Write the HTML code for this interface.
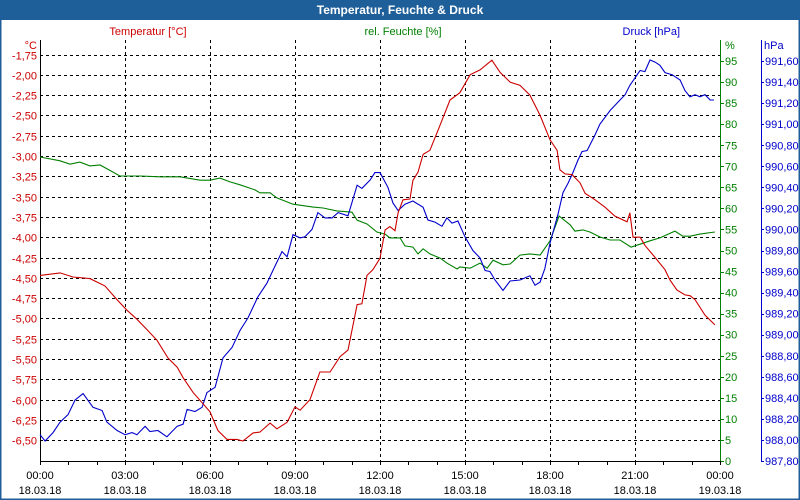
<!DOCTYPE html>
<html><head><meta charset="utf-8"><style>
body{margin:0;background:#fff}
svg{display:block;font-family:"Liberation Sans",sans-serif}
</style></head><body>
<svg id="c" width="800" height="500" viewBox="0 0 800 500">
<rect x="0" y="0" width="800" height="500" fill="#fff"/>
<rect x="0" y="0" width="800" height="20" fill="#1f5f99"/>
<text x="400" y="14" fill="#fff" font-size="12" font-weight="bold" text-anchor="middle">Temperatur, Feuchte &amp; Druck</text>
<rect x="0.5" y="0.5" width="799" height="499" fill="none" stroke="#1f5f99" stroke-width="2"/>
<text x="148" y="35" fill="#cc0000" font-size="11" text-anchor="middle">Temperatur [°C]</text>
<text x="403" y="35" fill="#008000" font-size="11" text-anchor="middle">rel. Feuchte [%]</text>
<text x="680" y="35" fill="#0000cc" font-size="11" text-anchor="end">Druck [hPa]</text>
<text x="37" y="49" fill="#cc0000" font-size="11" text-anchor="end">°C</text>
<text x="725" y="49" fill="#008000" font-size="11">%</text>
<text x="764" y="49" fill="#0000cc" font-size="11">hPa</text>
<g id="grid"></g><g id="axes"></g><g id="series"></g>
</svg>
<script>
const tempHours=[0,0.71,1.16,1.76,2.29,2.72,3.07,3.42,3.78,4.13,4.52,4.84,5.05,5.40,6.00,6.28,6.60,6.95,7.16,7.52,7.76,8.12,8.36,8.72,9.00,9.18,9.53,9.88,10.24,10.59,10.87,11.19,11.36,11.54,11.75,12.00,12.18,12.35,12.53,12.64,12.81,13.06,13.16,13.34,13.52,13.76,14.12,14.47,14.82,15.18,15.53,15.95,16.24,16.59,16.94,17.29,17.65,18.00,18.25,18.35,18.53,18.78,19.06,19.24,19.59,19.94,20.29,20.72,20.82,20.93,21.18,21.35,21.71,22.06,22.24,22.48,22.76,22.94,23.12,23.47,23.82];
const tempValues=[-4.47,-4.44,-4.49,-4.51,-4.60,-4.77,-4.90,-5.01,-5.14,-5.27,-5.49,-5.60,-5.73,-5.91,-6.15,-6.38,-6.49,-6.49,-6.51,-6.41,-6.40,-6.29,-6.36,-6.28,-6.09,-6.13,-6.00,-5.66,-5.66,-5.47,-5.39,-4.83,-4.82,-4.47,-4.40,-4.26,-3.91,-3.87,-3.92,-3.70,-3.54,-3.53,-3.30,-3.20,-2.98,-2.93,-2.62,-2.31,-2.22,-2.00,-1.94,-1.82,-1.97,-2.09,-2.13,-2.25,-2.50,-2.80,-2.93,-3.17,-3.22,-3.23,-3.33,-3.46,-3.54,-3.63,-3.74,-3.81,-3.70,-4.00,-4.00,-4.10,-4.25,-4.40,-4.53,-4.65,-4.71,-4.72,-4.77,-4.96,-5.08];
const humHours=[0,0.71,1.06,1.41,1.76,2.12,2.82,3.53,4.24,4.94,5.65,6.00,6.35,6.71,7.06,7.59,7.76,8.12,8.36,8.93,9.64,9.99,10.48,11.01,11.19,11.54,11.89,12.18,12.35,12.71,12.88,13.16,13.34,13.52,13.76,14.12,14.36,14.72,14.82,15.18,15.53,15.78,15.99,16.34,16.59,16.94,17.29,17.65,18.00,18.32,18.71,18.88,19.16,19.41,19.76,20.12,20.47,20.86,21.18,21.53,21.88,22.41,22.69,22.94,23.29,23.82];
const humValues=[72.2,71.3,70.5,71.0,70.1,70.3,67.7,67.7,67.5,67.5,66.7,66.7,67.2,66.3,65.6,64.4,63.7,63.7,62.5,61.0,60.3,60.1,59.4,59.1,57.2,56.3,54.4,53.9,53.0,53.0,51.1,50.8,49.2,50.4,49.2,48.2,47.0,45.6,46.1,45.8,47.0,45.8,47.7,46.6,46.8,48.9,49.2,48.9,52.3,58.2,56.1,54.6,54.9,54.4,53.2,52.5,52.5,50.8,51.5,52.3,53.0,54.6,53.4,53.4,53.9,54.4];
const presHours=[0,0.18,0.46,0.71,0.99,1.24,1.52,1.87,2.19,2.36,2.72,3.00,3.25,3.42,3.71,3.88,4.16,4.48,4.84,5.05,5.19,5.47,5.72,5.89,6.18,6.46,6.78,7.06,7.34,7.69,8.01,8.22,8.54,8.72,8.93,9.18,9.35,9.60,9.81,10.06,10.31,10.52,10.87,11.19,11.36,11.65,11.82,12.00,12.28,12.46,12.64,12.88,13.16,13.52,13.69,13.94,14.19,14.36,14.54,14.75,15.00,15.28,15.53,15.71,15.88,16.06,16.34,16.59,16.94,17.29,17.47,17.65,17.82,18.00,18.28,18.46,18.64,18.81,18.99,19.13,19.31,19.59,19.76,20.12,20.47,20.65,20.82,21.00,21.18,21.35,21.53,21.71,21.88,22.06,22.31,22.59,22.76,22.94,23.12,23.29,23.47,23.65,23.79];
const presValues=[988.05,987.99,988.07,988.17,988.24,988.38,988.44,988.31,988.28,988.17,988.09,988.05,988.07,988.05,988.13,988.08,988.09,988.03,988.13,988.15,988.29,988.27,988.31,988.45,988.50,988.78,988.88,989.04,989.16,989.36,989.49,989.61,989.79,989.74,989.95,989.92,989.93,990.00,990.16,990.11,990.11,990.16,990.13,990.42,990.39,990.47,990.54,990.54,990.40,990.25,990.18,990.24,990.27,990.21,990.09,990.07,990.03,990.11,990.06,990.08,989.93,989.80,989.73,989.61,989.60,989.52,989.42,989.51,989.52,989.56,989.47,989.50,989.63,989.87,990.14,990.35,990.44,990.54,990.66,990.74,990.75,990.90,991.00,991.13,991.23,991.28,991.37,991.44,991.51,991.50,991.61,991.59,991.56,991.49,991.47,991.42,991.32,991.26,991.28,991.26,991.28,991.23,991.23];
const tempTicks=["-1,75","-2,00","-2,25","-2,50","-2,75","-3,00","-3,25","-3,50","-3,75","-4,00","-4,25","-4,50","-4,75","-5,00","-5,25","-5,50","-5,75","-6,00","-6,25","-6,50"];
const humTicks=["95","90","85","80","75","70","65","60","55","50","45","40","35","30","25","20","15","10","5","0"];
const presTicks=["991,60","991,40","991,20","991,00","990,80","990,60","990,40","990,20","990,00","989,80","989,60","989,40","989,20","989,00","988,80","988,60","988,40","988,20","988,00","987,80"];
const timeTicks=["00:00","03:00","06:00","09:00","12:00","15:00","18:00","21:00","00:00"];
const dateTicks=["18.03.18","18.03.18","18.03.18","18.03.18","18.03.18","18.03.18","18.03.18","18.03.18","19.03.18"];

const L=40,R=720,T=40,B=461;
const NS="http://www.w3.org/2000/svg";
const xS=h=>L+h*(R-L)/24;
const yT=t=>54.5+(-1.75-t)/0.25*20.3;
const yH=v=>B-v*(B-T)/100;
const yP=p=>B-(p-987.8)*(B-T)/4.0;
function mk(tag,attrs,parent,txt){const e=document.createElementNS(NS,tag);for(const k in attrs)e.setAttribute(k,attrs[k]);if(txt!==undefined)e.textContent=txt;parent.appendChild(e);return e;}
const grid=document.getElementById('grid'),axes=document.getElementById('axes'),ser=document.getElementById('series');
tempTicks.forEach((lab,i)=>{
  const v=-1.75-0.25*i,y=Math.round(yT(v))+0.5;
  const g=mk('line',{x1:L,x2:R,y1:y,y2:y,stroke:'#000','stroke-dasharray':'3,3','stroke-width':1},grid);
  
  
  const t=mk('text',{x:37,y:y+4,'font-size':11,fill:'#cc0000','text-anchor':'end'},axes,lab);
  
  
});
for(let i=1;i<8;i++){
  const x=Math.round(xS(i*3))+0.5;
  const g=mk('line',{x1:x,x2:x,y1:T,y2:B,stroke:'#000','stroke-dasharray':'3,3','stroke-width':1},grid);
  
  
}
humTicks.forEach(lab=>{
  const y=yH(+lab);
  const tk=mk('line',{x1:720,x2:724,y1:Math.round(y)+0.5,y2:Math.round(y)+0.5,stroke:'#008000'},axes);
  
  
  const t=mk('text',{x:725,y:y+4,'font-size':11,fill:'#008000'},axes,lab);
  
  
});
presTicks.forEach(lab=>{
  const y=yP(parseFloat(lab.replace(',','.')));
  const tk=mk('line',{x1:761,x2:764,y1:Math.round(y)+0.5,y2:Math.round(y)+0.5,stroke:'#0000cc'},axes);
  
  
  const t=mk('text',{x:765,y:y+4,'font-size':11,fill:'#0000cc'},axes,lab);
  
  
});
timeTicks.forEach((lab,i)=>{
  const x=xS(i*3);
  const t=mk('text',{x:x,y:479,'font-size':11,fill:'#000','text-anchor':'middle'},axes,lab);
  
  
  const d=mk('text',{x:x,y:494,'font-size':11,fill:'#000','text-anchor':'middle'},axes,dateTicks[i]);
  
  
});
for(let h=0;h<=24;h++){
  const x=Math.round(xS(h))+0.5;
  const tk=mk('line',{x1:x,x2:x,y1:B,y2:B+4,stroke:'#000'},axes);
  
  
}
let a=mk('line',{x1:40.5,x2:40.5,y1:T,y2:B,stroke:'#000'},axes);


a=mk('line',{x1:40,x2:720,y1:B+0.5,y2:B+0.5,stroke:'#000'},axes);


a=mk('line',{x1:720.5,x2:720.5,y1:T,y2:B,stroke:'#008000'},axes);


a=mk('line',{x1:761.5,x2:761.5,y1:T,y2:B,stroke:'#0000cc'},axes);


function line(hs,vs,yf,col,name){
  const d=hs.map((h,i)=>(i?'L':'M')+xS(h).toFixed(1)+','+yf(vs[i]).toFixed(1)).join('');
  const p=mk('path',{d:d,fill:'none',stroke:col,'stroke-width':1.1},ser);
  
  
}
line(humHours,humValues,yH,'#008000','humidity-line');
line(presHours,presValues,yP,'#0000cc','pressure-line');
line(tempHours,tempValues,yT,'#cc0000','temperature-line');
</script>
</body></html>
